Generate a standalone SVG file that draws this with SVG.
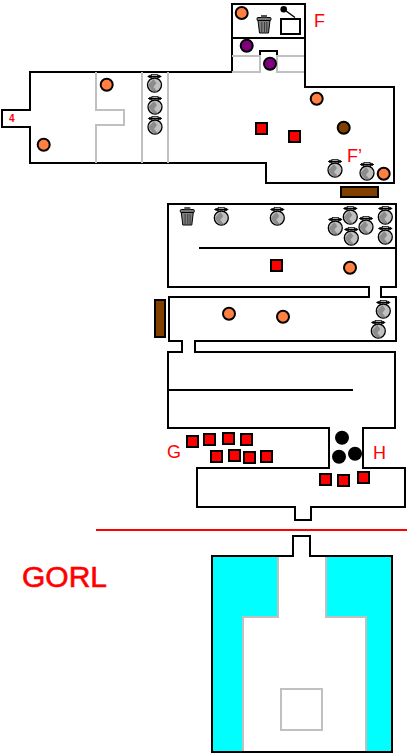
<svg xmlns="http://www.w3.org/2000/svg" width="407" height="755" viewBox="0 0 407 755">
<style>
.wall{fill:none;stroke:#000;stroke-width:2;shape-rendering:crispEdges}
.gray{fill:none;stroke:#c0c0c0;stroke-width:2;shape-rendering:crispEdges}
.o{fill:#ff8040;stroke:#000;stroke-width:2}
.p{fill:#800080;stroke:#000;stroke-width:2}
.b{fill:#804000;stroke:#000;stroke-width:2}
.k{fill:#000}
.r{fill:#f00;stroke:#000;stroke-width:2;shape-rendering:crispEdges}
.t{fill:#f00;font-family:"Liberation Sans",Arial,sans-serif}
</style>
<defs>
<g id="jar">
<ellipse cx="0" cy="-7.500" rx="6.500" ry="1.500" fill="#999" stroke="#000" stroke-width="1"/>
<rect x="-3" y="-9.500" width="6" height="6" fill="#aaa" stroke="#000" stroke-width="0.600"/>
<path d="M-6.500 -7.500H6.500" stroke="#000" stroke-width="1"/>
<circle cx="0" cy="1" r="7" fill="#c0c0c0" stroke="#000" stroke-width="1.300"/>
<path d="M-6.500 1 L-1 -5 L2 -1 L-1 3 L3 7.500 L-2 7.500 Z" fill="#8c8c8c"/>
</g>
<g id="trash">
<rect x="-7" y="-6.500" width="14" height="3" rx="1" fill="#777" stroke="#000" stroke-width="1"/>
<path d="M-6 -3.500 H6 L4.500 9 H-4.500 Z" fill="#808080" stroke="#000" stroke-width="1"/>
<path d="M-2.200 -2 V8 M0.500 -2 V8 M2.800 -2 V8" stroke="#333" stroke-width="0.900" fill="none"/>
<rect x="-3" y="-9" width="6" height="2.500" fill="#555"/>
</g>
<rect id="sq" class="r" x="-5.500" y="-5.500" width="11" height="11"/>
</defs>

<g id="connectors">
<path class="wall" d="M232 72H30V110H2V127H30V163H266V183H394V87H305V4H232V72"/>
<path class="wall" d="M232 38H305"/>
<path class="wall" d="M260 56V51H277V56"/>
<path class="gray" d="M232 56H260V72H232"/>
<path class="gray" d="M304 56H277V72H304"/>
<path class="gray" d="M96 72V110H124V125H96V163"/>
<path class="gray" d="M142 72V163M168 72V163"/>
<path class="wall" d="M168 204H396V287H381V297H396V341H195V352H395V428H363V468H405V507H311V520H295V507H197V468H329V428H168V352H182V341H169V297H369V287H168Z"/>
<path class="wall" d="M199 248H396M168 390H353"/>
<path d="M96 530H407" stroke="#f00" stroke-width="2" fill="none" shape-rendering="crispEdges"/>
</g>

<g id="moat">
<path d="M212 556H392V752H212Z" fill="#0ff"/>
<path d="M278 556H326V617H366V752H243V617H278Z" fill="#fff"/>
<path class="gray" d="M278 556V617H243V751M326 556V617H366V751"/>
<rect class="gray" x="281" y="689" width="41" height="41"/>
<path class="wall" d="M278 556H212V752H392V556H310V536H293V556H278"/>
</g>

<g id="labels">
<text class="t" x="314" y="27" font-size="18">F</text>
<text class="t" x="347" y="162" font-size="18">F’</text>
<text class="t" x="167" y="458" font-size="18">G</text>
<text class="t" x="373" y="459" font-size="18">H</text>
<text class="t" x="22" y="587" font-size="30" stroke="#f00" stroke-width="0.600">GORL</text>
<text class="t" x="9" y="122" font-size="10" font-weight="bold">4</text>
</g>

<g id="lever">
<path d="M284 9.500L295 17.500" stroke="#000" stroke-width="1.500" fill="none"/>
<circle class="k" cx="283.700" cy="9.300" r="3.300"/>
<rect class="wall" x="281" y="19" width="19" height="15"/>
</g>
<g id="brown-bars">
<rect x="341" y="187" width="37" height="10" fill="#804000" stroke="#000" stroke-width="2" shape-rendering="crispEdges"/>
<rect x="155" y="300" width="10" height="37" fill="#804000" stroke="#000" stroke-width="2" shape-rendering="crispEdges"/>
</g>

<g id="orange-tokens">
<circle class="o" cx="241.700" cy="13" r="6"/>
<circle class="o" cx="106.700" cy="84.700" r="6"/>
<circle class="o" cx="43.700" cy="144.700" r="6"/>
<circle class="o" cx="316.700" cy="98.700" r="6"/>
<circle class="o" cx="383.700" cy="173.700" r="6"/>
<circle class="o" cx="350" cy="267.700" r="6"/>
<circle class="o" cx="229" cy="313.700" r="6"/>
<circle class="o" cx="283" cy="316.700" r="6"/>
</g>
<g id="purple-tokens">
<circle class="p" cx="246.700" cy="45.700" r="6"/>
<circle class="p" cx="270" cy="63.700" r="6"/>
</g>
<g id="brown-token"><circle class="b" cx="343.700" cy="127.700" r="6"/></g>
<g id="black-tokens">
<circle class="k" cx="342" cy="437.700" r="7"/>
<circle class="k" cx="339" cy="456.700" r="7"/>
<circle class="k" cx="355" cy="453.700" r="7"/>
</g>
<g id="red-tokens">
<use href="#sq" x="261.500" y="128.500"/>
<use href="#sq" x="294.500" y="136.500"/>
<use href="#sq" x="276.500" y="265.500"/>
<use href="#sq" x="192.500" y="441.500"/>
<use href="#sq" x="209.500" y="439.500"/>
<use href="#sq" x="228.500" y="438.500"/>
<use href="#sq" x="246.500" y="439.500"/>
<use href="#sq" x="216.500" y="456.500"/>
<use href="#sq" x="234.500" y="455.500"/>
<use href="#sq" x="249.500" y="457.500"/>
<use href="#sq" x="266.500" y="456.500"/>
<use href="#sq" x="325.500" y="479.500"/>
<use href="#sq" x="343.500" y="480.500"/>
<use href="#sq" x="363.500" y="477.500"/>
</g>
<g id="trash-cans">
<use href="#trash" x="264" y="24"/>
<use href="#trash" x="187.300" y="216"/>
</g>
<g id="jars">
<use href="#jar" x="154.500" y="84"/>
<use href="#jar" x="155" y="106"/>
<use href="#jar" x="155" y="126"/>
<use href="#jar" x="335" y="169"/>
<use href="#jar" x="367" y="172"/>
<use href="#jar" x="221.300" y="217"/>
<use href="#jar" x="277.300" y="217"/>
<use href="#jar" x="335.300" y="227"/>
<use href="#jar" x="350.300" y="216"/>
<use href="#jar" x="366" y="226"/>
<use href="#jar" x="385.300" y="216"/>
<use href="#jar" x="351.300" y="237"/>
<use href="#jar" x="385.300" y="236"/>
<use href="#jar" x="383.300" y="310"/>
<use href="#jar" x="378.300" y="330"/>
</g>
</svg>
